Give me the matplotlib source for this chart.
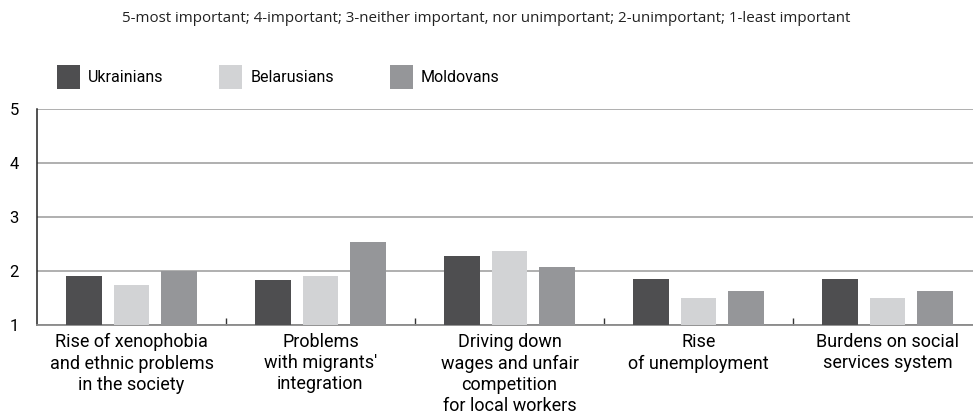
import numpy as np
import matplotlib
matplotlib.use("Agg")
import matplotlib.pyplot as plt
from matplotlib.ticker import FixedLocator

# data
categories = [
    "Rise of xenophobia\nand ethnic problems\nin the society",
    "Problems\nwith migrants'\nintegration",
    "Driving down\nwages and unfair\ncompetition\nfor local workers",
    "Rise\nof unemployment",
    "Burdens on social\nservices system",
]
series_names = ["Ukrainians", "Belarusians", "Moldovans"]
ukrainians = [1.91, 1.83, 2.28, 1.85, 1.85]
belarusians = [1.74, 1.91, 2.37, 1.50, 1.50]
moldovans = [2.00, 2.54, 2.07, 1.63, 1.63]
y_ticks = [1, 2, 3, 4, 5]
subtitle = "5-most important; 4-important; 3-neither important, nor unimportant; 2-unimportant; 1-least important"

colors = ["#4e4e50", "#d2d3d5", "#959699"]
label_font = ["Roboto", "DejaVu Sans"]

W, H = 973, 417
fig = plt.figure(figsize=(W / 100, H / 100), dpi=100)
ax = fig.add_axes([37 / W, 1 - 325 / H, 945 / W, 216 / H])

x = np.arange(len(categories))
width = 0.19
step = 0.249
bars = []
for i, (vals, name) in enumerate(zip([ukrainians, belarusians, moldovans], series_names)):
    b = ax.bar(x + (i - 1) * step, np.array(vals) - 1, width, bottom=1,
               color=colors[i], label=name, zorder=3)
    bars.append(b)

ax.set_xlim(-0.5, len(categories) - 0.5)
ax.set_ylim(1, 5)
ax.set_yticks(y_ticks)
ax.set_yticklabels([str(t) for t in y_ticks], family=label_font, fontsize=12)
ax.tick_params(axis="y", length=0, pad=13)
ax.yaxis.grid(True, color="#9a9a9a", linewidth=1.1, zorder=0)
ax.set_axisbelow(True)

ax.set_xticks(x)
ax.set_xticklabels(categories, family=label_font, fontsize=13, linespacing=1.22)
ax.tick_params(axis="x", which="major", length=0, pad=6)
ax.xaxis.set_minor_locator(FixedLocator(np.arange(0.5, len(categories) - 0.5, 1)))
ax.tick_params(axis="x", which="minor", direction="in", length=5, color="#333333", width=1)

for s in ["top", "right"]:
    ax.spines[s].set_visible(False)
ax.spines["left"].set_color("#222222")
ax.spines["left"].set_linewidth(1.1)
ax.spines["bottom"].set_color("#8a8a8a")
ax.spines["bottom"].set_linewidth(1.3)

fig.text(486 / W, 1 - 18 / H, subtitle, ha="center", va="center",
         family=["Open Sans", "DejaVu Sans"], fontsize=10.9, color="#222222")

fig.legend(handles=bars, labels=series_names, loc="upper left",
           bbox_to_anchor=(57 / W, 1 - 65 / H), ncol=3, frameon=False,
           prop={"family": label_font, "size": 11.5},
           handlelength=1.44, handleheight=1.9, handletextpad=0.5,
           columnspacing=3.5, borderpad=0, borderaxespad=0)

fig.savefig("out.png", dpi=100)
